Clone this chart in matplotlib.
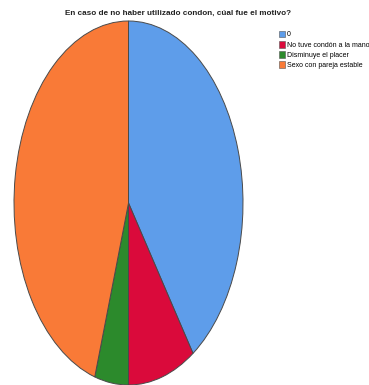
import matplotlib.pyplot as plt
from matplotlib.patches import Patch

categories = ['0', 'No tuve condón a la mano', 'Disminuye el placer', 'Sexo con pareja estable']
counts = [17, 4, 2, 19]
colors = ['#5E9DEA', '#DA0A3B', '#2C8A2C', '#F97A37']

plt.rcParams['font.family'] = ['Liberation Sans', 'DejaVu Sans']

fig = plt.figure(figsize=(3.69, 3.85), dpi=100)
ax = fig.add_axes([14 / 369, 0 / 385, 229 / 369, 364 / 385])

ax.pie(counts, colors=colors, startangle=90, counterclock=False,
       wedgeprops={'edgecolor': '#4a4a4a', 'linewidth': 0.7})
ax.set_aspect('auto')
ax.set_xlim(-1, 1)
ax.set_ylim(-1, 1)
ax.axis('off')

fig.text(0.483, 1 - 13 / 385, 'En caso de no haber utilizado condon, cúal fue el motivo?',
         ha='center', va='center', fontsize=5.9, fontweight='bold', color='#222222')

handles = [Patch(facecolor=c, edgecolor='#555555', linewidth=0.4) for c in colors]
fig.legend(handles, categories, loc='upper left', bbox_to_anchor=(276 / 369, 1 - 28 / 385),
           frameon=False, fontsize=5, handlelength=0.9, handleheight=1.1,
           handletextpad=0.3, labelspacing=0.35, borderaxespad=0)

fig.savefig('out.png', dpi=100)
